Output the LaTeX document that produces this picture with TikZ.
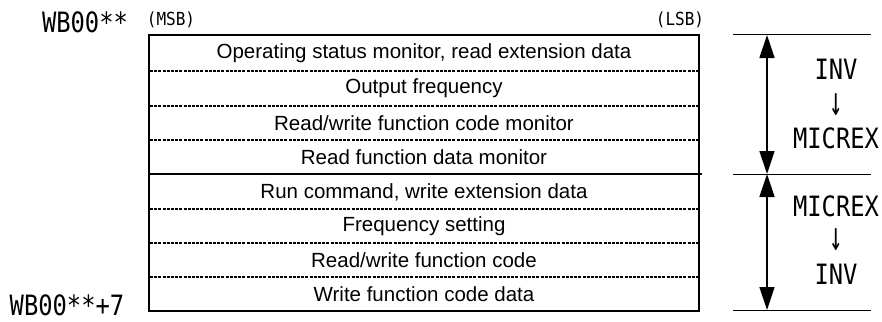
\documentclass[tikz,border=0pt]{standalone}
\usepackage{fontspec}
\setmainfont{Liberation Sans}
\newfontfamily\gothic{DejaVu Sans Mono}
\usetikzlibrary{arrows.meta}
\tikzset{
  rowtext/.style={font=\fontsize{20.5}{20.5}\selectfont, inner sep=0pt},
  addr/.style={font=\gothic\fontsize{28}{28}\selectfont, inner sep=0pt, xscale=0.85, transform shape},
  dir/.style={font=\gothic\fontsize{28}{28}\selectfont, inner sep=0pt, xscale=0.85, transform shape},
  downch/.style={font=\gothic\fontsize{28}{28}\selectfont, inner sep=0pt, xscale=0.8, yscale=1.45, transform shape},
  bit/.style={font=\gothic\fontsize{18}{18}\selectfont, inner sep=0pt, xscale=0.89, transform shape},
  sep/.style={line width=1.6pt, dash pattern=on 3pt off 1.2pt},
  frame/.style={line width=1.8pt},
  rule/.style={line width=1pt},
  span/.style={line width=1.5pt, {Triangle[width=15pt,length=23pt]}-{Triangle[width=15pt,length=23pt]}}
}
\begin{document}
\begin{tikzpicture}[x=1pt,y=-1pt]
\useasboundingbox (0,0) rectangle (882,321);
% frame
\draw[frame] (149,35) rectangle (699,311);
\draw[frame] (149,174) -- (702,174);
\foreach \y in {71,106,140,209,243,277} \draw[sep] (150,\y) -- (698,\y);
% row texts
\node[rowtext] (r1) at (424,53) {Operating status monitor, read extension data};
\node[rowtext] (r2) at (424,88.5) {Output frequency};
\node[rowtext] (r3) at (424,123) {Read/write function code monitor};
\node[rowtext] (r4) at (424,157.5) {Read function data monitor};
\node[rowtext] (r5) at (424,192) {Run command, write extension data};
\node[rowtext] (r6) at (424,226) {Frequency setting};
\node[rowtext] (r7) at (424,260) {Read/write function code};
\node[rowtext] (r8) at (424,294) {Write function code data};
% labels
\node[bit] (msb) at (171,20) {(MSB)};
\node[bit] (lsb) at (680,20) {(LSB)};
\node[addr] (wbs) at (85,22) {WB00**};
\node[addr] (wbe) at (67,305) {WB00**+7};
% right side
\coordinate (t0) at (733,35); \coordinate (t1) at (871,35);
\coordinate (m0) at (733,174); \coordinate (m1) at (871,174);
\coordinate (b0) at (733,310); \coordinate (b1) at (871,310);
\draw[rule] (t0) -- (t1);
\draw[rule] (m0) -- (m1);
\draw[rule] (b0) -- (b1);
\coordinate (at) at (767,35); \coordinate (am) at (767,174); \coordinate (ab) at (767,310);
\draw[span] (at) -- (am);
\draw[span] (am) -- (ab);
\node[dir] (d1) at (836,69) {INV};
\node[downch] (d2) at (836,105) {↓};
\node[dir] (d3) at (836,138) {MICREX};
\node[dir] (d4) at (836,206) {MICREX};
\node[downch] (d5) at (836,240) {↓};
\node[dir] (d6) at (836,274) {INV};
\end{tikzpicture}
\end{document}
